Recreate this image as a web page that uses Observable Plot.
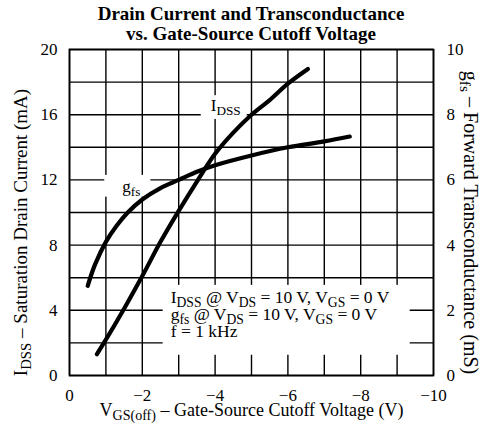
<!DOCTYPE html>
<html><head><meta charset="utf-8">
<script src="https://cdn.jsdelivr.net/npm/d3@7"></script>
<script src="https://cdn.jsdelivr.net/npm/@observablehq/plot@0.6"></script>
<style>
body{margin:0;background:#fff;font-family:"Liberation Serif","Times New Roman",serif;}
#title{width:484px;height:44px;font-weight:bold;font-size:19px;line-height:20px;padding-top:4px;box-sizing:border-box;}
#title div{width:364px;margin-left:69px;text-align:center;}
svg{overflow:visible;display:block;font-family:"Liberation Serif","Times New Roman",serif;}
</style></head><body>
<div id="title"><div>Drain Current and Transconductance<br>vs. Gate-Source Cutoff Voltage</div></div>
<div id="chart"></div>
<script>
// I_DSS (mA) vs V_GS(off) (V)
const idssV  = [-0.75, -1.0, -1.5, -2.0, -2.5, -3.0, -3.5, -4.0, -4.5, -5.0, -5.5, -6.0, -6.55];
const idssMA = [1.3, 2.2, 4.1, 6.1, 8.2, 10.1, 11.9, 13.6, 14.9, 16.0, 16.9, 17.9, 18.8];
// g_fs (mS) vs V_GS(off) (V)
const gfsV  = [-0.5, -0.7, -1.0, -1.3, -1.6, -2.0, -2.5, -3.0, -3.5, -4.0, -5.0, -6.0, -7.0, -7.7];
const gfsMS = [2.75, 3.4, 4.1, 4.6, 5.0, 5.4, 5.75, 6.0, 6.25, 6.45, 6.75, 7.0, 7.18, 7.33];

const xTicks = [0, -2, -4, -6, -8, -10];
const xGrid = [0, -1, -2, -3, -4, -5, -6, -7, -8, -9, -10];
const leftTicks = [0, 4, 8, 12, 16, 20];     // mA
const rightTicks = [0, 2, 4, 6, 8, 10];      // mS
const yGrid = [0, 2, 4, 6, 8, 10, 12, 14, 16, 18, 20];

const curveLabels = [
  {text: "I_{DSS}", x: -3.88, y: 16.55},
  {text: "g_{fs}", x: -1.45, y: 11.6}
];
const noteLines = [
  {text: "I_{DSS} @ V_{DS} = 10 V, V_{GS} = 0 V", x: -2.78, y: 4.8},
  {text: "g_{fs} @ V_{DS} = 10 V, V_{GS} = 0 V", x: -2.78, y: 3.76},
  {text: "f = 1 kHz", x: -2.78, y: 2.72}
];
const xLabel = "V_{GS(off)} – Gate-Source Cutoff Voltage (V)";
const yLabelLeft = "I_{DSS} – Saturation Drain Current (mA)";
const yLabelRight = "g_{fs} – Forward Transconductance (mS)";

const mSToMA = 2; // right axis 0–10 mS spans left axis 0–20 mA
const idss = idssV.map((v, i) => ({v, y: idssMA[i]}));
const gfs = gfsV.map((v, i) => ({v, y: gfsMS[i] * mSToMA}));

const plot = Plot.plot({
  width: 484, height: 385,
  marginLeft: 69, marginRight: 51, marginTop: 5, marginBottom: 54,
  style: {fontFamily: '"Liberation Serif", serif', fontSize: "17px", color: "black", background: "white"},
  x: {domain: [0, -10], axis: null},
  y: {domain: [0, 20], axis: null},
  marks: [
    Plot.ruleX(xGrid, {stroke: "black", strokeWidth: 1.4}),
    Plot.ruleY(yGrid, {stroke: "black", strokeWidth: 1.4}),
    Plot.frame({stroke: "black", strokeWidth: 1.7}),
    Plot.axisX(xTicks, {tickSize: 0, tickPadding: 13, fontSize: 17, label: null}),
    Plot.axisY(leftTicks, {anchor: "left", tickSize: 0, tickPadding: 12, fontSize: 17, label: null}),
    Plot.axisY(rightTicks.map(d => d * mSToMA), {anchor: "right", tickSize: 0, tickPadding: 13, fontSize: 17, label: null, tickFormat: d => d / mSToMA}),
    Plot.text(curveLabels, {x: "x", y: "y", text: "text", textAnchor: "start", fontSize: 17, fill: "black"}),
    Plot.text(noteLines, {x: "x", y: "y", text: "text", textAnchor: "start", fontSize: 17.5, fill: "black"}),
    Plot.text([xLabel], {frameAnchor: "bottom", textAnchor: "middle", lineAnchor: "middle", dy: 35, fontSize: 18, fill: "black"}),
    Plot.text([yLabelLeft], {frameAnchor: "left", textAnchor: "middle", lineAnchor: "middle", rotate: -90, dx: -49, dy: 20, fontSize: 19, fill: "black"}),
    Plot.text([yLabelRight], {frameAnchor: "right", textAnchor: "middle", lineAnchor: "middle", rotate: 90, dx: 37, dy: 10, fontSize: 20, fill: "black"}),
    Plot.line(idss, {x: "v", y: "y", curve: "catmull-rom", stroke: "black", strokeWidth: 4.2, strokeLinecap: "round"}),
    Plot.line(gfs, {x: "v", y: "y", curve: "catmull-rom", stroke: "black", strokeWidth: 4.2, strokeLinecap: "round"})
  ]
});
document.getElementById("chart").appendChild(plot);

const NS = "http://www.w3.org/2000/svg";
const curveSet = new Set(curveLabels.map(d => d.text));
const noteSet = new Set(noteLines.map(d => d.text));
const curveEls = [], noteEls = [];
function subify(el) {
  const s = el.textContent;
  if (curveSet.has(s)) curveEls.push(el);
  if (noteSet.has(s)) noteEls.push(el);
  if (!s.includes("_{")) return;
  const fs = parseFloat(getComputedStyle(el).fontSize) || 17;
  el.textContent = "";
  const re = /_\{([^}]*)\}/g;
  const parts = [];
  let last = 0, m;
  while ((m = re.exec(s))) {
    parts.push([s.slice(last, m.index), false]);
    parts.push([m[1], true]);
    last = re.lastIndex;
  }
  parts.push([s.slice(last), false]);
  let cur = 0;
  for (const [t, sub] of parts) {
    if (!t) continue;
    const ts = document.createElementNS(NS, "tspan");
    ts.textContent = t;
    const target = sub ? fs * 0.22 : 0;
    if (target !== cur) ts.setAttribute("dy", target - cur);
    if (sub) ts.setAttribute("font-size", fs * 0.78);
    cur = target;
    el.appendChild(ts);
  }
}
plot.querySelectorAll("text").forEach(subify);

// white boxes behind in-plot labels, interrupting the grid like the original
const svgBox = plot.getBoundingClientRect();
function boxFor(els, padL, padR, padT, padB) {
  let x0 = Infinity, y0 = Infinity, x1 = -Infinity, y1 = -Infinity;
  els.forEach(e => {
    const r = e.getBoundingClientRect();
    x0 = Math.min(x0, r.left); y0 = Math.min(y0, r.top);
    x1 = Math.max(x1, r.right); y1 = Math.max(y1, r.bottom);
  });
  const rect = document.createElementNS(NS, "rect");
  rect.setAttribute("x", x0 - svgBox.left - padL);
  rect.setAttribute("y", y0 - svgBox.top - padT);
  rect.setAttribute("width", x1 - x0 + padL + padR);
  rect.setAttribute("height", y1 - y0 + padT + padB);
  rect.setAttribute("fill", "white");
  return rect;
}
const boxes = document.createElementNS(NS, "g");
if (curveEls[0]) boxes.appendChild(boxFor([curveEls[0]], 10, 6, 1, 1));
if (curveEls[1]) boxes.appendChild(boxFor([curveEls[1]], 18, 10, 2, -2));
if (noteEls.length) boxes.appendChild(boxFor(noteEls, 8, 20, 2, 14));
const firstLabelG = (curveEls[0] || noteEls[0]);
if (firstLabelG) {
  const g = firstLabelG.parentNode;
  g.parentNode.insertBefore(boxes, g);
}
</script>
</body></html>
